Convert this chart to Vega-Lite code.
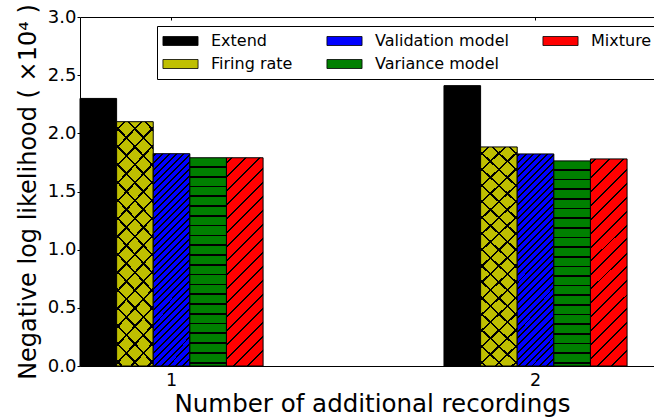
{
  "$schema": "https://vega.github.io/schema/vega-lite/v6.json",
  "width": 574,
  "height": 349,
  "autosize": "none",
  "padding": {"left": 80, "top": 17, "right": 0, "bottom": 52},
  "background": "white",
  "config": {
    "font": "DejaVu Sans",
    "view": {"stroke": null},
    "axis": {"grid": false, "domainColor": "#000", "tickColor": "#000", "labelColor": "#000", "titleColor": "#000", "titleFontWeight": "normal", "domainWidth": 1, "tickWidth": 1, "labelFont": "DejaVu Sans", "titleFont": "DejaVu Sans"}
  },
  "data": {
    "values": [
      {"g": "1", "s": "Extend", "v": 2.30},
      {"g": "1", "s": "Firing rate", "v": 2.10},
      {"g": "1", "s": "Validation model", "v": 1.825},
      {"g": "1", "s": "Variance model", "v": 1.79},
      {"g": "1", "s": "Mixture", "v": 1.79},
      {"g": "2", "s": "Extend", "v": 2.41},
      {"g": "2", "s": "Firing rate", "v": 1.883},
      {"g": "2", "s": "Validation model", "v": 1.823},
      {"g": "2", "s": "Variance model", "v": 1.763},
      {"g": "2", "s": "Mixture", "v": 1.78}
    ]
  },
  "resolve": {"axis": {"x": "independent"}},
  "encoding": {
    "x": {"field": "g", "type": "nominal", "scale": {"domain": ["1", "2"], "paddingInner": 0.497, "paddingOuter": 0.037, "align": 0}, "axis": null},
    "xOffset": {"field": "s", "type": "nominal", "scale": {"domain": ["Extend", "Firing rate", "Validation model", "Variance model", "Mixture"], "paddingInner": 0, "paddingOuter": 0}},
    "y": {"field": "v", "type": "quantitative", "scale": {"domain": [0, 3], "nice": false},
      "axis": {"title": "Negative log likelihood ( ×10⁴ )", "values": [0, 0.5, 1, 1.5, 2, 2.5, 3], "format": ".1f", "labelFontSize": 18, "tickSize": 3, "labelPadding": 1, "titleFontSize": 24, "titlePadding": 7, "domain": true}}
  },
  "layer": [
    {
      "mark": {"type": "bar", "stroke": "#000", "strokeWidth": 1},
      "encoding": {
        "x": {"field": "g", "type": "nominal", "scale": {"domain": ["1", "2"], "paddingInner": 0.497, "paddingOuter": 0.037, "align": 0},
          "axis": {"orient": "bottom", "title": "Number of additional recordings", "labelAngle": 0, "labelFontSize": 17.5, "ticks": false, "tickSize": 0, "labelPadding": 5.5, "titleFontSize": 24.5, "titlePadding": 3, "titleX": 292, "domain": true}},
        "fill": {"field": "s", "type": "nominal",
          "scale": {"domain": ["Extend", "Firing rate", "Validation model", "Variance model", "Mixture"], "range": ["#000000", "#bfbf00", "#0000ff", "#008000", "#ff0000"]},
          "legend": {
            "title": null, "orient": "none", "legendX": 77, "legendY": 9, "columns": 3,
            "symbolType": "M-3.9,-1H3.9V1H-3.9Z", "symbolSize": 81, "symbolOffset": 8.5, "labelOffset": 22.5,
            "labelFontSize": 16, "labelFont": "DejaVu Sans", "labelColor": "#000", "labelLimit": 0,
            "columnPadding": 32, "rowPadding": 7, "padding": 7,
            "strokeColor": "#000", "fillColor": "#fff", "cornerRadius": 0,
            "symbolStrokeColor": "#000", "symbolStrokeWidth": 0.8
          }
        }
      }
    },
    {
      "transform": [{"filter": "datum.s === 'Variance model'"}],
      "mark": {"type": "bar", "strokeWidth": 0, "fill": {"gradient": "linear", "x1": 0, "y1": 1, "x2": 0, "y2": 0, "stops": [
        {"offset": 0.012, "color": "rgba(0,0,0,0)"}, {"offset": 0.012, "color": "#000"}, {"offset": 0.020, "color": "#000"}, {"offset": 0.020, "color": "rgba(0,0,0,0)"},
        {"offset": 0.059, "color": "rgba(0,0,0,0)"}, {"offset": 0.059, "color": "#000"}, {"offset": 0.067, "color": "#000"}, {"offset": 0.067, "color": "rgba(0,0,0,0)"},
        {"offset": 0.106, "color": "rgba(0,0,0,0)"}, {"offset": 0.106, "color": "#000"}, {"offset": 0.114, "color": "#000"}, {"offset": 0.114, "color": "rgba(0,0,0,0)"},
        {"offset": 0.153, "color": "rgba(0,0,0,0)"}, {"offset": 0.153, "color": "#000"}, {"offset": 0.161, "color": "#000"}, {"offset": 0.161, "color": "rgba(0,0,0,0)"},
        {"offset": 0.200, "color": "rgba(0,0,0,0)"}, {"offset": 0.200, "color": "#000"}, {"offset": 0.208, "color": "#000"}, {"offset": 0.208, "color": "rgba(0,0,0,0)"},
        {"offset": 0.247, "color": "rgba(0,0,0,0)"}, {"offset": 0.247, "color": "#000"}, {"offset": 0.255, "color": "#000"}, {"offset": 0.255, "color": "rgba(0,0,0,0)"},
        {"offset": 0.294, "color": "rgba(0,0,0,0)"}, {"offset": 0.294, "color": "#000"}, {"offset": 0.302, "color": "#000"}, {"offset": 0.302, "color": "rgba(0,0,0,0)"},
        {"offset": 0.341, "color": "rgba(0,0,0,0)"}, {"offset": 0.341, "color": "#000"}, {"offset": 0.349, "color": "#000"}, {"offset": 0.349, "color": "rgba(0,0,0,0)"},
        {"offset": 0.388, "color": "rgba(0,0,0,0)"}, {"offset": 0.388, "color": "#000"}, {"offset": 0.396, "color": "#000"}, {"offset": 0.396, "color": "rgba(0,0,0,0)"},
        {"offset": 0.435, "color": "rgba(0,0,0,0)"}, {"offset": 0.435, "color": "#000"}, {"offset": 0.443, "color": "#000"}, {"offset": 0.443, "color": "rgba(0,0,0,0)"},
        {"offset": 0.482, "color": "rgba(0,0,0,0)"}, {"offset": 0.482, "color": "#000"}, {"offset": 0.490, "color": "#000"}, {"offset": 0.490, "color": "rgba(0,0,0,0)"},
        {"offset": 0.529, "color": "rgba(0,0,0,0)"}, {"offset": 0.529, "color": "#000"}, {"offset": 0.537, "color": "#000"}, {"offset": 0.537, "color": "rgba(0,0,0,0)"},
        {"offset": 0.576, "color": "rgba(0,0,0,0)"}, {"offset": 0.576, "color": "#000"}, {"offset": 0.584, "color": "#000"}, {"offset": 0.584, "color": "rgba(0,0,0,0)"},
        {"offset": 0.623, "color": "rgba(0,0,0,0)"}, {"offset": 0.623, "color": "#000"}, {"offset": 0.631, "color": "#000"}, {"offset": 0.631, "color": "rgba(0,0,0,0)"},
        {"offset": 0.670, "color": "rgba(0,0,0,0)"}, {"offset": 0.670, "color": "#000"}, {"offset": 0.678, "color": "#000"}, {"offset": 0.678, "color": "rgba(0,0,0,0)"},
        {"offset": 0.717, "color": "rgba(0,0,0,0)"}, {"offset": 0.717, "color": "#000"}, {"offset": 0.725, "color": "#000"}, {"offset": 0.725, "color": "rgba(0,0,0,0)"},
        {"offset": 0.764, "color": "rgba(0,0,0,0)"}, {"offset": 0.764, "color": "#000"}, {"offset": 0.772, "color": "#000"}, {"offset": 0.772, "color": "rgba(0,0,0,0)"},
        {"offset": 0.811, "color": "rgba(0,0,0,0)"}, {"offset": 0.811, "color": "#000"}, {"offset": 0.819, "color": "#000"}, {"offset": 0.819, "color": "rgba(0,0,0,0)"},
        {"offset": 0.858, "color": "rgba(0,0,0,0)"}, {"offset": 0.858, "color": "#000"}, {"offset": 0.866, "color": "#000"}, {"offset": 0.866, "color": "rgba(0,0,0,0)"},
        {"offset": 0.905, "color": "rgba(0,0,0,0)"}, {"offset": 0.905, "color": "#000"}, {"offset": 0.913, "color": "#000"}, {"offset": 0.913, "color": "rgba(0,0,0,0)"},
        {"offset": 0.951, "color": "rgba(0,0,0,0)"}, {"offset": 0.951, "color": "#000"}, {"offset": 0.959, "color": "#000"}, {"offset": 0.959, "color": "rgba(0,0,0,0)"}]}},
      "encoding": {
        "x": {"field": "g", "type": "nominal", "scale": {"domain": ["1", "2"], "paddingInner": 0.497, "paddingOuter": 0.037, "align": 0},
          "axis": {"orient": "top", "labels": false, "title": null, "ticks": true, "tickSize": -3, "domain": true}}
      }
    },
    {
      "transform": [{"filter": "datum.s === 'Validation model'"}],
      "mark": {"type": "bar", "strokeWidth": 0, "fill": {"gradient": "linear", "x1": 0, "y1": 0, "x2": 0.197, "y2": 1.139, "stops": [
        {"offset": 0.006, "color": "rgba(0,0,0,0)"}, {"offset": 0.006, "color": "#000"}, {"offset": 0.014, "color": "#000"}, {"offset": 0.014, "color": "rgba(0,0,0,0)"},
        {"offset": 0.034, "color": "rgba(0,0,0,0)"}, {"offset": 0.034, "color": "#000"}, {"offset": 0.042, "color": "#000"}, {"offset": 0.042, "color": "rgba(0,0,0,0)"},
        {"offset": 0.062, "color": "rgba(0,0,0,0)"}, {"offset": 0.062, "color": "#000"}, {"offset": 0.070, "color": "#000"}, {"offset": 0.070, "color": "rgba(0,0,0,0)"},
        {"offset": 0.091, "color": "rgba(0,0,0,0)"}, {"offset": 0.091, "color": "#000"}, {"offset": 0.099, "color": "#000"}, {"offset": 0.099, "color": "rgba(0,0,0,0)"},
        {"offset": 0.119, "color": "rgba(0,0,0,0)"}, {"offset": 0.119, "color": "#000"}, {"offset": 0.127, "color": "#000"}, {"offset": 0.127, "color": "rgba(0,0,0,0)"},
        {"offset": 0.147, "color": "rgba(0,0,0,0)"}, {"offset": 0.147, "color": "#000"}, {"offset": 0.155, "color": "#000"}, {"offset": 0.155, "color": "rgba(0,0,0,0)"},
        {"offset": 0.175, "color": "rgba(0,0,0,0)"}, {"offset": 0.175, "color": "#000"}, {"offset": 0.183, "color": "#000"}, {"offset": 0.183, "color": "rgba(0,0,0,0)"},
        {"offset": 0.203, "color": "rgba(0,0,0,0)"}, {"offset": 0.203, "color": "#000"}, {"offset": 0.211, "color": "#000"}, {"offset": 0.211, "color": "rgba(0,0,0,0)"},
        {"offset": 0.232, "color": "rgba(0,0,0,0)"}, {"offset": 0.232, "color": "#000"}, {"offset": 0.240, "color": "#000"}, {"offset": 0.240, "color": "rgba(0,0,0,0)"},
        {"offset": 0.260, "color": "rgba(0,0,0,0)"}, {"offset": 0.260, "color": "#000"}, {"offset": 0.268, "color": "#000"}, {"offset": 0.268, "color": "rgba(0,0,0,0)"},
        {"offset": 0.288, "color": "rgba(0,0,0,0)"}, {"offset": 0.288, "color": "#000"}, {"offset": 0.296, "color": "#000"}, {"offset": 0.296, "color": "rgba(0,0,0,0)"},
        {"offset": 0.316, "color": "rgba(0,0,0,0)"}, {"offset": 0.316, "color": "#000"}, {"offset": 0.324, "color": "#000"}, {"offset": 0.324, "color": "rgba(0,0,0,0)"},
        {"offset": 0.344, "color": "rgba(0,0,0,0)"}, {"offset": 0.344, "color": "#000"}, {"offset": 0.352, "color": "#000"}, {"offset": 0.352, "color": "rgba(0,0,0,0)"},
        {"offset": 0.373, "color": "rgba(0,0,0,0)"}, {"offset": 0.373, "color": "#000"}, {"offset": 0.381, "color": "#000"}, {"offset": 0.381, "color": "rgba(0,0,0,0)"},
        {"offset": 0.401, "color": "rgba(0,0,0,0)"}, {"offset": 0.401, "color": "#000"}, {"offset": 0.409, "color": "#000"}, {"offset": 0.409, "color": "rgba(0,0,0,0)"},
        {"offset": 0.429, "color": "rgba(0,0,0,0)"}, {"offset": 0.429, "color": "#000"}, {"offset": 0.437, "color": "#000"}, {"offset": 0.437, "color": "rgba(0,0,0,0)"},
        {"offset": 0.457, "color": "rgba(0,0,0,0)"}, {"offset": 0.457, "color": "#000"}, {"offset": 0.465, "color": "#000"}, {"offset": 0.465, "color": "rgba(0,0,0,0)"},
        {"offset": 0.485, "color": "rgba(0,0,0,0)"}, {"offset": 0.485, "color": "#000"}, {"offset": 0.493, "color": "#000"}, {"offset": 0.493, "color": "rgba(0,0,0,0)"},
        {"offset": 0.514, "color": "rgba(0,0,0,0)"}, {"offset": 0.514, "color": "#000"}, {"offset": 0.522, "color": "#000"}, {"offset": 0.522, "color": "rgba(0,0,0,0)"},
        {"offset": 0.542, "color": "rgba(0,0,0,0)"}, {"offset": 0.542, "color": "#000"}, {"offset": 0.550, "color": "#000"}, {"offset": 0.550, "color": "rgba(0,0,0,0)"},
        {"offset": 0.570, "color": "rgba(0,0,0,0)"}, {"offset": 0.570, "color": "#000"}, {"offset": 0.578, "color": "#000"}, {"offset": 0.578, "color": "rgba(0,0,0,0)"},
        {"offset": 0.598, "color": "rgba(0,0,0,0)"}, {"offset": 0.598, "color": "#000"}, {"offset": 0.606, "color": "#000"}, {"offset": 0.606, "color": "rgba(0,0,0,0)"},
        {"offset": 0.626, "color": "rgba(0,0,0,0)"}, {"offset": 0.626, "color": "#000"}, {"offset": 0.634, "color": "#000"}, {"offset": 0.634, "color": "rgba(0,0,0,0)"},
        {"offset": 0.655, "color": "rgba(0,0,0,0)"}, {"offset": 0.655, "color": "#000"}, {"offset": 0.663, "color": "#000"}, {"offset": 0.663, "color": "rgba(0,0,0,0)"},
        {"offset": 0.683, "color": "rgba(0,0,0,0)"}, {"offset": 0.683, "color": "#000"}, {"offset": 0.691, "color": "#000"}, {"offset": 0.691, "color": "rgba(0,0,0,0)"},
        {"offset": 0.711, "color": "rgba(0,0,0,0)"}, {"offset": 0.711, "color": "#000"}, {"offset": 0.719, "color": "#000"}, {"offset": 0.719, "color": "rgba(0,0,0,0)"},
        {"offset": 0.739, "color": "rgba(0,0,0,0)"}, {"offset": 0.739, "color": "#000"}, {"offset": 0.747, "color": "#000"}, {"offset": 0.747, "color": "rgba(0,0,0,0)"},
        {"offset": 0.767, "color": "rgba(0,0,0,0)"}, {"offset": 0.767, "color": "#000"}, {"offset": 0.775, "color": "#000"}, {"offset": 0.775, "color": "rgba(0,0,0,0)"},
        {"offset": 0.796, "color": "rgba(0,0,0,0)"}, {"offset": 0.796, "color": "#000"}, {"offset": 0.804, "color": "#000"}, {"offset": 0.804, "color": "rgba(0,0,0,0)"},
        {"offset": 0.824, "color": "rgba(0,0,0,0)"}, {"offset": 0.824, "color": "#000"}, {"offset": 0.832, "color": "#000"}, {"offset": 0.832, "color": "rgba(0,0,0,0)"},
        {"offset": 0.852, "color": "rgba(0,0,0,0)"}, {"offset": 0.852, "color": "#000"}, {"offset": 0.860, "color": "#000"}, {"offset": 0.860, "color": "rgba(0,0,0,0)"},
        {"offset": 0.880, "color": "rgba(0,0,0,0)"}, {"offset": 0.880, "color": "#000"}, {"offset": 0.888, "color": "#000"}, {"offset": 0.888, "color": "rgba(0,0,0,0)"},
        {"offset": 0.908, "color": "rgba(0,0,0,0)"}, {"offset": 0.908, "color": "#000"}, {"offset": 0.916, "color": "#000"}, {"offset": 0.916, "color": "rgba(0,0,0,0)"},
        {"offset": 0.937, "color": "rgba(0,0,0,0)"}, {"offset": 0.937, "color": "#000"}, {"offset": 0.945, "color": "#000"}, {"offset": 0.945, "color": "rgba(0,0,0,0)"},
        {"offset": 0.965, "color": "rgba(0,0,0,0)"}, {"offset": 0.965, "color": "#000"}, {"offset": 0.973, "color": "#000"}, {"offset": 0.973, "color": "rgba(0,0,0,0)"}]}}
    },
    {
      "transform": [{"filter": "datum.s === 'Mixture'"}],
      "mark": {"type": "bar", "strokeWidth": 0, "fill": {"gradient": "linear", "x1": 0, "y1": 0, "x2": 0.201, "y2": 1.141, "stops": [
        {"offset": 0.016, "color": "rgba(0,0,0,0)"}, {"offset": 0.016, "color": "#000"}, {"offset": 0.024, "color": "#000"}, {"offset": 0.024, "color": "rgba(0,0,0,0)"},
        {"offset": 0.073, "color": "rgba(0,0,0,0)"}, {"offset": 0.073, "color": "#000"}, {"offset": 0.081, "color": "#000"}, {"offset": 0.081, "color": "rgba(0,0,0,0)"},
        {"offset": 0.131, "color": "rgba(0,0,0,0)"}, {"offset": 0.131, "color": "#000"}, {"offset": 0.139, "color": "#000"}, {"offset": 0.139, "color": "rgba(0,0,0,0)"},
        {"offset": 0.188, "color": "rgba(0,0,0,0)"}, {"offset": 0.188, "color": "#000"}, {"offset": 0.196, "color": "#000"}, {"offset": 0.196, "color": "rgba(0,0,0,0)"},
        {"offset": 0.245, "color": "rgba(0,0,0,0)"}, {"offset": 0.245, "color": "#000"}, {"offset": 0.253, "color": "#000"}, {"offset": 0.253, "color": "rgba(0,0,0,0)"},
        {"offset": 0.303, "color": "rgba(0,0,0,0)"}, {"offset": 0.303, "color": "#000"}, {"offset": 0.311, "color": "#000"}, {"offset": 0.311, "color": "rgba(0,0,0,0)"},
        {"offset": 0.360, "color": "rgba(0,0,0,0)"}, {"offset": 0.360, "color": "#000"}, {"offset": 0.368, "color": "#000"}, {"offset": 0.368, "color": "rgba(0,0,0,0)"},
        {"offset": 0.417, "color": "rgba(0,0,0,0)"}, {"offset": 0.417, "color": "#000"}, {"offset": 0.425, "color": "#000"}, {"offset": 0.425, "color": "rgba(0,0,0,0)"},
        {"offset": 0.474, "color": "rgba(0,0,0,0)"}, {"offset": 0.474, "color": "#000"}, {"offset": 0.482, "color": "#000"}, {"offset": 0.482, "color": "rgba(0,0,0,0)"},
        {"offset": 0.532, "color": "rgba(0,0,0,0)"}, {"offset": 0.532, "color": "#000"}, {"offset": 0.540, "color": "#000"}, {"offset": 0.540, "color": "rgba(0,0,0,0)"},
        {"offset": 0.589, "color": "rgba(0,0,0,0)"}, {"offset": 0.589, "color": "#000"}, {"offset": 0.597, "color": "#000"}, {"offset": 0.597, "color": "rgba(0,0,0,0)"},
        {"offset": 0.646, "color": "rgba(0,0,0,0)"}, {"offset": 0.646, "color": "#000"}, {"offset": 0.654, "color": "#000"}, {"offset": 0.654, "color": "rgba(0,0,0,0)"},
        {"offset": 0.704, "color": "rgba(0,0,0,0)"}, {"offset": 0.704, "color": "#000"}, {"offset": 0.712, "color": "#000"}, {"offset": 0.712, "color": "rgba(0,0,0,0)"},
        {"offset": 0.761, "color": "rgba(0,0,0,0)"}, {"offset": 0.761, "color": "#000"}, {"offset": 0.769, "color": "#000"}, {"offset": 0.769, "color": "rgba(0,0,0,0)"},
        {"offset": 0.818, "color": "rgba(0,0,0,0)"}, {"offset": 0.818, "color": "#000"}, {"offset": 0.826, "color": "#000"}, {"offset": 0.826, "color": "rgba(0,0,0,0)"},
        {"offset": 0.876, "color": "rgba(0,0,0,0)"}, {"offset": 0.876, "color": "#000"}, {"offset": 0.884, "color": "#000"}, {"offset": 0.884, "color": "rgba(0,0,0,0)"},
        {"offset": 0.933, "color": "rgba(0,0,0,0)"}, {"offset": 0.933, "color": "#000"}, {"offset": 0.941, "color": "#000"}, {"offset": 0.941, "color": "rgba(0,0,0,0)"}]}}
    },
    {
      "transform": [{"filter": "datum.s === 'Firing rate'"}],
      "mark": {"type": "bar", "strokeWidth": 0, "fill": {"gradient": "linear", "x1": 0, "y1": 0, "x2": 0.179, "y2": 1.130, "stops": [
        {"offset": 0.0255, "color": "rgba(0,0,0,0)"}, {"offset": 0.0255, "color": "#000"}, {"offset": 0.0345, "color": "#000"}, {"offset": 0.0345, "color": "rgba(0,0,0,0)"},
        {"offset": 0.0885, "color": "rgba(0,0,0,0)"}, {"offset": 0.0885, "color": "#000"}, {"offset": 0.0975, "color": "#000"}, {"offset": 0.0975, "color": "rgba(0,0,0,0)"},
        {"offset": 0.1525, "color": "rgba(0,0,0,0)"}, {"offset": 0.1525, "color": "#000"}, {"offset": 0.1615, "color": "#000"}, {"offset": 0.1615, "color": "rgba(0,0,0,0)"},
        {"offset": 0.2155, "color": "rgba(0,0,0,0)"}, {"offset": 0.2155, "color": "#000"}, {"offset": 0.2245, "color": "#000"}, {"offset": 0.2245, "color": "rgba(0,0,0,0)"},
        {"offset": 0.2795, "color": "rgba(0,0,0,0)"}, {"offset": 0.2795, "color": "#000"}, {"offset": 0.2885, "color": "#000"}, {"offset": 0.2885, "color": "rgba(0,0,0,0)"},
        {"offset": 0.3425, "color": "rgba(0,0,0,0)"}, {"offset": 0.3425, "color": "#000"}, {"offset": 0.3515, "color": "#000"}, {"offset": 0.3515, "color": "rgba(0,0,0,0)"},
        {"offset": 0.4055, "color": "rgba(0,0,0,0)"}, {"offset": 0.4055, "color": "#000"}, {"offset": 0.4145, "color": "#000"}, {"offset": 0.4145, "color": "rgba(0,0,0,0)"},
        {"offset": 0.4695, "color": "rgba(0,0,0,0)"}, {"offset": 0.4695, "color": "#000"}, {"offset": 0.4785, "color": "#000"}, {"offset": 0.4785, "color": "rgba(0,0,0,0)"},
        {"offset": 0.5325, "color": "rgba(0,0,0,0)"}, {"offset": 0.5325, "color": "#000"}, {"offset": 0.5415, "color": "#000"}, {"offset": 0.5415, "color": "rgba(0,0,0,0)"},
        {"offset": 0.5965, "color": "rgba(0,0,0,0)"}, {"offset": 0.5965, "color": "#000"}, {"offset": 0.6055, "color": "#000"}, {"offset": 0.6055, "color": "rgba(0,0,0,0)"},
        {"offset": 0.6595, "color": "rgba(0,0,0,0)"}, {"offset": 0.6595, "color": "#000"}, {"offset": 0.6685, "color": "#000"}, {"offset": 0.6685, "color": "rgba(0,0,0,0)"},
        {"offset": 0.7225, "color": "rgba(0,0,0,0)"}, {"offset": 0.7225, "color": "#000"}, {"offset": 0.7315, "color": "#000"}, {"offset": 0.7315, "color": "rgba(0,0,0,0)"},
        {"offset": 0.7865, "color": "rgba(0,0,0,0)"}, {"offset": 0.7865, "color": "#000"}, {"offset": 0.7955, "color": "#000"}, {"offset": 0.7955, "color": "rgba(0,0,0,0)"},
        {"offset": 0.8495, "color": "rgba(0,0,0,0)"}, {"offset": 0.8495, "color": "#000"}, {"offset": 0.8585, "color": "#000"}, {"offset": 0.8585, "color": "rgba(0,0,0,0)"},
        {"offset": 0.9135, "color": "rgba(0,0,0,0)"}, {"offset": 0.9135, "color": "#000"}, {"offset": 0.9225, "color": "#000"}, {"offset": 0.9225, "color": "rgba(0,0,0,0)"},
        {"offset": 0.9765, "color": "rgba(0,0,0,0)"}, {"offset": 0.9765, "color": "#000"}, {"offset": 0.9855, "color": "#000"}, {"offset": 0.9855, "color": "rgba(0,0,0,0)"}]}}
    },
    {
      "transform": [{"filter": "datum.s === 'Firing rate'"}],
      "mark": {"type": "bar", "strokeWidth": 0, "fill": {"gradient": "linear", "x1": 1, "y1": 0, "x2": 0.821, "y2": 1.130, "stops": [
        {"offset": 0.0255, "color": "rgba(0,0,0,0)"}, {"offset": 0.0255, "color": "#000"}, {"offset": 0.0345, "color": "#000"}, {"offset": 0.0345, "color": "rgba(0,0,0,0)"},
        {"offset": 0.0885, "color": "rgba(0,0,0,0)"}, {"offset": 0.0885, "color": "#000"}, {"offset": 0.0975, "color": "#000"}, {"offset": 0.0975, "color": "rgba(0,0,0,0)"},
        {"offset": 0.1525, "color": "rgba(0,0,0,0)"}, {"offset": 0.1525, "color": "#000"}, {"offset": 0.1615, "color": "#000"}, {"offset": 0.1615, "color": "rgba(0,0,0,0)"},
        {"offset": 0.2155, "color": "rgba(0,0,0,0)"}, {"offset": 0.2155, "color": "#000"}, {"offset": 0.2245, "color": "#000"}, {"offset": 0.2245, "color": "rgba(0,0,0,0)"},
        {"offset": 0.2795, "color": "rgba(0,0,0,0)"}, {"offset": 0.2795, "color": "#000"}, {"offset": 0.2885, "color": "#000"}, {"offset": 0.2885, "color": "rgba(0,0,0,0)"},
        {"offset": 0.3425, "color": "rgba(0,0,0,0)"}, {"offset": 0.3425, "color": "#000"}, {"offset": 0.3515, "color": "#000"}, {"offset": 0.3515, "color": "rgba(0,0,0,0)"},
        {"offset": 0.4055, "color": "rgba(0,0,0,0)"}, {"offset": 0.4055, "color": "#000"}, {"offset": 0.4145, "color": "#000"}, {"offset": 0.4145, "color": "rgba(0,0,0,0)"},
        {"offset": 0.4695, "color": "rgba(0,0,0,0)"}, {"offset": 0.4695, "color": "#000"}, {"offset": 0.4785, "color": "#000"}, {"offset": 0.4785, "color": "rgba(0,0,0,0)"},
        {"offset": 0.5325, "color": "rgba(0,0,0,0)"}, {"offset": 0.5325, "color": "#000"}, {"offset": 0.5415, "color": "#000"}, {"offset": 0.5415, "color": "rgba(0,0,0,0)"},
        {"offset": 0.5965, "color": "rgba(0,0,0,0)"}, {"offset": 0.5965, "color": "#000"}, {"offset": 0.6055, "color": "#000"}, {"offset": 0.6055, "color": "rgba(0,0,0,0)"},
        {"offset": 0.6595, "color": "rgba(0,0,0,0)"}, {"offset": 0.6595, "color": "#000"}, {"offset": 0.6685, "color": "#000"}, {"offset": 0.6685, "color": "rgba(0,0,0,0)"},
        {"offset": 0.7225, "color": "rgba(0,0,0,0)"}, {"offset": 0.7225, "color": "#000"}, {"offset": 0.7315, "color": "#000"}, {"offset": 0.7315, "color": "rgba(0,0,0,0)"},
        {"offset": 0.7865, "color": "rgba(0,0,0,0)"}, {"offset": 0.7865, "color": "#000"}, {"offset": 0.7955, "color": "#000"}, {"offset": 0.7955, "color": "rgba(0,0,0,0)"},
        {"offset": 0.8495, "color": "rgba(0,0,0,0)"}, {"offset": 0.8495, "color": "#000"}, {"offset": 0.8585, "color": "#000"}, {"offset": 0.8585, "color": "rgba(0,0,0,0)"},
        {"offset": 0.9135, "color": "rgba(0,0,0,0)"}, {"offset": 0.9135, "color": "#000"}, {"offset": 0.9225, "color": "#000"}, {"offset": 0.9225, "color": "rgba(0,0,0,0)"},
        {"offset": 0.9765, "color": "rgba(0,0,0,0)"}, {"offset": 0.9765, "color": "#000"}, {"offset": 0.9855, "color": "#000"}, {"offset": 0.9855, "color": "rgba(0,0,0,0)"}]}}
    }
  ]
}
